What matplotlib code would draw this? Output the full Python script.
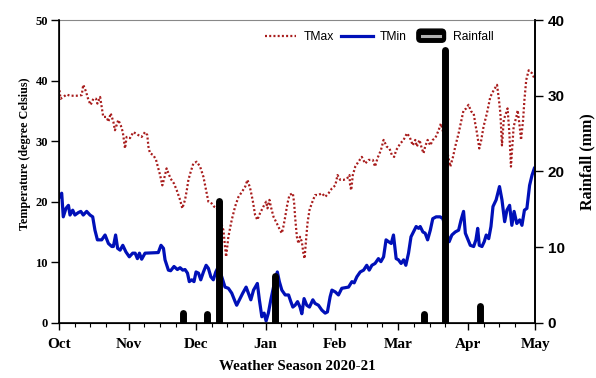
import matplotlib
matplotlib.use('Agg')
import matplotlib.pyplot as plt
import matplotlib.dates as mdates
from matplotlib.lines import Line2D
from matplotlib.patches import FancyBboxPatch
from matplotlib.legend_handler import HandlerBase
import pandas as pd

start = pd.Timestamp('2020-10-01')

# days counted from 1 Oct 2020
tmax_day = [0.2, 0.7, 1.9, 3.4, 4.9, 7.9, 10.1, 10.8, 12.0, 13.1, 14.1, 15.3, 16.5, 17.1, 18.3,
            19.0, 19.7, 21.2, 22.0, 23.0, 24.2, 24.9, 26.4, 27.5, 28.4, 29.0, 29.4, 30.1, 31.6,
            33.1, 35.3, 36.8, 38.3, 39.3, 39.8, 40.5, 42.0, 43.2, 44.2, 45.0, 46.0, 46.8, 47.9,
            48.7, 49.7, 51.2, 52.4, 53.9, 54.9, 56.1, 56.9, 57.6, 58.6, 59.8, 61.3, 62.8, 64.3,
            65.5, 66.5, 68.0, 69.0, 70.2, 71.7, 73.2, 73.9, 74.4, 75.4, 76.9, 78.4, 79.9, 81.4,
            82.9, 83.9, 85.1, 86.2, 87.3, 88.3, 89.5, 91.0, 92.2, 92.8, 93.7, 94.3, 95.5, 97.0,
            98.4, 99.2, 99.9, 100.7, 101.7, 102.6, 104.1, 104.7, 105.1, 105.9, 106.6, 107.3,
            108.1, 108.8, 109.3, 110.0, 110.6, 111.5, 112.5, 114.0, 115.5, 117.0, 118.5, 120.0,
            121.5, 123.0, 124.0, 125.2, 126.6, 128.2, 129.3, 129.6, 130.1, 130.8, 131.9, 133.3,
            134.8, 136.3, 137.8, 139.7, 140.7, 141.8, 143.3, 144.5, 145.9, 147.1, 148.2, 149.2,
            150.1, 151.9, 153.4, 154.9, 156.1, 157.5, 158.6, 159.3, 160.5, 161.5, 162.3, 163.0,
            164.1, 165.3, 166.4, 167.5, 169.0, 170.0, 170.8, 173.0, 174.2, 175.4, 176.4, 177.9,
            179.0, 180.1, 181.3, 182.3, 183.5, 184.6, 185.3, 186.1, 187.1, 188.0, 189.0, 190.5,
            192.0, 193.5, 195.0, 195.7, 196.5, 197.2, 198.0, 198.7, 199.7, 200.5, 201.2, 201.6,
            202.4, 203.6, 204.2, 205.1, 205.7, 206.6, 207.2, 208.0, 209.1, 210.6, 211.6]
tmax = [38.4, 37.0, 37.3, 37.7, 37.5, 37.5, 37.6, 39.3, 38.2, 36.8, 36.0, 37.0, 37.0, 36.2, 37.3,
        35.7, 34.0, 34.0, 33.2, 34.6, 33.2, 31.8, 33.5, 32.6, 31.5, 29.9, 28.8, 30.7, 30.5,
        31.5, 31.0, 30.7, 31.5, 31.0, 29.1, 28.0, 27.7, 26.9, 25.5, 24.4, 22.7, 23.8, 25.5,
        24.7, 23.8, 23.0, 21.9, 20.3, 18.9, 20.3, 21.9, 23.6, 24.9, 26.3, 26.6, 25.8, 24.1,
        21.9, 20.0, 19.7, 19.2, 19.0, 17.0, 15.3, 12.6, 10.9, 14.2, 17.0, 19.2, 20.8, 21.6,
        22.5, 23.6, 22.2, 20.3, 17.8, 17.0, 18.1, 19.2, 20.0, 18.9, 20.3, 19.2, 17.5, 16.4,
        15.3, 14.8, 15.9, 17.5, 19.7, 21.1, 21.4, 19.7, 17.5, 14.2, 13.1, 14.2,
        13.4, 11.5, 10.6, 13.7, 16.4, 18.6, 19.7, 21.1, 21.1, 21.4, 20.8, 21.4,
        22.2, 22.7, 24.4, 23.6, 23.6, 23.8, 24.4, 22.7, 21.9, 24.4, 25.8, 26.6,
        27.4, 26.3, 26.9, 26.9, 25.8, 27.2, 28.5, 30.2, 29.1, 28.8, 27.7, 27.4,
        28.5, 29.6, 30.2, 31.3, 30.7, 29.3, 30.2, 29.1, 30.2, 28.8, 28.0, 29.1,
        30.2, 29.3, 30.2, 30.5, 31.8, 32.9, 31.8, 28.0, 25.8, 27.4, 29.1, 31.3,
        33.2, 35.1, 35.4, 36.0, 34.9, 34.6, 32.9, 31.3, 28.8, 30.2, 32.4, 34.6,
        37.3, 38.4, 39.3, 37.3, 34.6, 29.3, 33.5, 34.3, 35.4, 31.3, 25.8, 28.0,
        32.4, 34.0, 35.1, 32.4, 30.2, 33.5, 36.8, 40.1, 41.7, 41.2, 40.4]

tmin_day = [0.2, 1.2, 1.9, 3.1, 4.2, 4.9, 6.1, 7.1, 8.6, 9.7, 10.8, 12.3, 13.8, 15.0, 16.0, 17.1,
            19.0, 20.5, 22.0, 23.5, 24.2, 25.2, 26.1, 27.2, 28.4, 29.8, 31.3, 32.8, 33.9, 34.9,
            35.8, 36.8, 38.3, 44.2, 45.4, 46.5, 47.2, 48.7, 49.7, 51.2, 52.7, 53.9, 55.1, 56.1,
            57.2, 58.0, 59.1, 60.1, 61.0, 62.1, 63.1, 64.3, 65.5, 66.5, 67.6, 68.7, 69.8, 71.0,
            72.9, 73.9, 75.4, 76.9, 78.4, 79.1, 80.3, 81.8, 83.3, 84.3, 85.4, 86.6, 88.3, 89.2,
            90.3, 91.3, 92.2, 93.2, 94.3, 95.5, 96.7, 97.2, 98.1, 99.2, 100.7, 102.2, 103.2,
            104.1, 105.1, 106.2, 107.3, 108.1, 109.1, 110.3, 111.5, 113.0, 114.0, 115.5, 117.0,
            118.5, 119.5, 120.7, 121.5, 123.0, 124.4, 125.9, 127.4, 128.9, 130.4, 131.4, 132.6,
            134.1, 135.6, 137.0, 138.1, 139.3, 140.7, 142.2, 143.3, 144.5, 145.6, 146.7, 147.9,
            148.9, 150.1, 151.1, 152.3, 153.4, 154.4, 155.6, 156.7, 157.8, 159.0, 160.1, 160.8,
            162.0, 163.0, 164.1, 165.3, 166.4, 167.9, 169.7, 170.9, 173.7, 174.9, 176.4, 177.9,
            179.0, 180.1, 180.9, 181.9, 183.1, 184.6, 185.6, 186.4, 187.1, 188.3, 189.3, 190.2,
            191.3, 192.3, 193.2, 194.6, 196.1, 197.2, 198.4, 199.4, 200.6, 201.6, 202.6, 203.8,
            205.1, 206.1, 207.2, 208.3, 209.5, 210.6, 211.6]
tmin = [20.8, 21.4, 17.5, 18.9, 19.4, 17.8, 18.6, 17.8, 18.2, 18.4, 17.8, 18.4, 17.8, 17.5, 15.3, 13.7,
        13.7, 14.5, 13.1, 12.6, 12.6, 14.5, 12.3, 12.0, 12.8, 11.7, 10.9, 11.5, 11.5, 10.6,
        11.5, 10.5, 11.5, 11.6, 12.8, 12.3, 10.4, 8.7, 8.6, 9.3, 8.8, 9.1, 8.7, 8.8,
        8.2, 6.8, 7.1, 6.8, 8.4, 8.2, 7.1, 8.4, 9.5, 9.0, 7.6, 7.1, 8.4, 9.3,
        7.1, 5.9, 5.7, 4.9, 3.5, 2.9, 3.8, 4.9, 5.9, 4.9, 3.8, 5.4, 6.5, 3.8,
        1.0, 1.6, 0.3, 1.6, 3.8, 5.9, 7.6, 8.4, 6.8, 5.4, 4.6, 4.6, 3.5,
        2.6, 2.9, 3.5, 2.6, 1.5, 4.0, 2.9, 2.6, 3.8, 3.2, 2.9, 2.1,
        1.6, 1.8, 4.3, 5.4, 5.1, 4.6, 5.7, 5.8, 5.9, 6.8, 6.6, 7.6,
        8.4, 8.7, 9.5, 8.7, 9.5, 9.8, 10.6, 10.1, 10.9, 13.7, 13.4, 13.1,
        14.5, 10.6, 10.4, 9.8, 10.4, 9.5, 11.5, 14.2, 15.0, 15.9, 15.6, 15.9,
        15.0, 14.8, 13.7, 15.3, 17.2, 17.5, 17.5, 17.2, 13.4, 14.5, 15.0, 15.3,
        17.0, 18.4, 14.8, 13.9, 12.8, 12.6, 13.7, 15.6, 12.8, 12.6, 13.4, 14.5,
        13.9, 15.9, 19.2, 20.3, 22.5, 20.3, 16.7, 18.6, 19.4, 16.1, 18.4, 16.4,
        17.0, 16.1, 18.6, 18.9, 22.7, 24.4, 25.5]

rain_day = [55, 66, 71.3, 96.2, 162.3, 172, 187.2]
rain_mm = [1.3, 1.1, 16.1, 6.2, 1.15, 36.1, 2.2]

RED = '#a81c1c'
BLUE = '#0010b8'
DOTS = (0, (0.9, 1.0))
serif = 'Liberation Serif'
sans = 'Liberation Sans'


def to_dates(days):
    return start + pd.to_timedelta(days, unit='D')


class RainHandler(HandlerBase):
    # black rounded box with a grey bar inside, like the bar legend key
    def create_artists(self, legend, orig_handle, xdescent, ydescent, width, height,
                       fontsize, trans):
        h = height * 1.55
        y0 = -ydescent + (height - h) / 2
        box = FancyBboxPatch((-xdescent + 2, y0), width - 2, h,
                             boxstyle='round,pad=0,rounding_size=%.1f' % (h * 0.3),
                             facecolor='black', edgecolor='black', transform=trans)
        bar = Line2D([-xdescent + 6, -xdescent + width - 4], [y0 + h / 2] * 2,
                     color='#b0b0b0', lw=2.2, transform=trans)
        return [box, bar]


fig = plt.figure(figsize=(5.96, 3.78), dpi=100)
ax = fig.add_axes([0.099, 0.146, 0.799, 0.801])
ax2 = ax.twinx()

ax.plot(to_dates(tmax_day), tmax, color=RED, lw=1.6, linestyle=DOTS, dash_capstyle='butt')
ax.plot(to_dates(tmin_day), tmin, color=BLUE, lw=2.3)

ax2.vlines(to_dates(rain_day), 0, rain_mm, color='black', lw=5.0, capstyle='round')

ax.set_xlim(start, pd.Timestamp('2021-05-01'))
ax.set_ylim(0, 50)
ax2.set_ylim(0, 40)

ax.xaxis.set_major_locator(mdates.MonthLocator())
ax.xaxis.set_major_formatter(mdates.DateFormatter('%b'))
ax.xaxis.set_minor_locator(mdates.DayLocator(bymonthday=[8, 15, 22]))
ax.set_yticks([0, 10, 20, 30, 40, 50])
ax2.set_yticks([0, 10, 20, 30, 40])

ax.tick_params(axis='x', which='major', length=5, width=1, labelsize=11, pad=6)
ax.tick_params(axis='x', which='minor', length=3, width=0.8)
ax.tick_params(axis='y', length=6, width=1, labelsize=9, pad=2)
ax2.tick_params(axis='y', length=6, width=1, labelsize=11, pad=3)

for lab in ax.get_xticklabels() + ax.get_yticklabels():
    lab.set_fontfamily(serif)
    lab.set_fontweight('bold')
for lab in ax2.get_yticklabels():
    lab.set_fontfamily(sans)
    lab.set_fontweight('bold')

ax.set_xlabel('Weather Season 2020-21', fontfamily=serif, fontweight='bold', fontsize=10.8)
ax.xaxis.set_label_coords(0.5, -0.123)
ax.set_ylabel('Temperature (degree Celsius)', fontfamily=serif, fontweight='bold', fontsize=8.7)
ax.yaxis.set_label_coords(-0.071, 0.557)
ax2.set_ylabel('Rainfall (mm)', fontfamily=serif, fontweight='bold', fontsize=11.5, rotation=90)
ax2.yaxis.set_label_coords(1.109, 0.531)
ax.yaxis.label.set_va('center')
ax2.yaxis.label.set_va('center')

for sp in ['left', 'right', 'bottom']:
    ax.spines[sp].set_linewidth(1.2)
ax.spines['top'].set_color('#888888')
ax2.spines['top'].set_visible(False)
ax2.spines['right'].set_linewidth(1.2)

h_max = Line2D([], [], color=RED, lw=1.6, linestyle=DOTS, dash_capstyle='butt')
h_min = Line2D([], [], color=BLUE, lw=2.3)
h_rain = Line2D([], [], color='black')
leg = ax.legend([h_max, h_min, h_rain], ['TMax', 'TMin', 'Rainfall'], ncol=3,
                loc='upper right', bbox_to_anchor=(0.935, 1.0), frameon=False,
                prop={'family': sans, 'size': 8.7}, handlelength=2.6, columnspacing=0.6,
                handletextpad=0.6, handler_map={h_rain: RainHandler()})
leg.set_zorder(5)

fig.savefig('out.png', dpi=100)
